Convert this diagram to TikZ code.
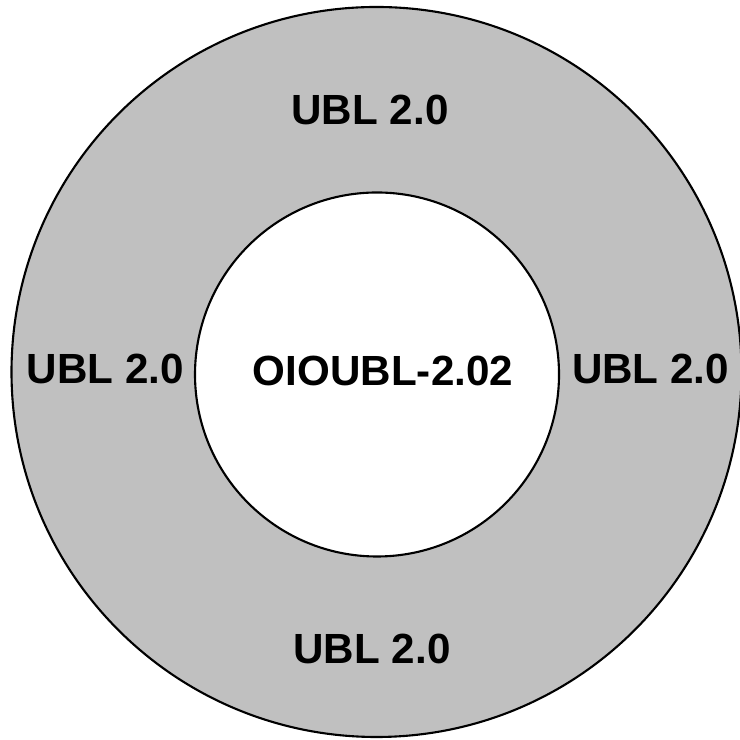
\documentclass[tikz,border=0pt]{standalone}
\usepackage{fontspec}
\setmainfont{Liberation Sans}
\begin{document}
\begin{tikzpicture}
			[every circle node/.style={draw,line width=0.6pt,inner sep=0pt},
			label/.style={font=\bfseries\fontsize{12}{14}\selectfont}]
			\useasboundingbox (0,0) rectangle (7.4,7.4);
			\clip (0,0) rectangle (7.4,7.4);
			\node[circle,fill={rgb,255:red,192;green,192;blue,192},minimum size=7.30cm] (outer) at (3.765,3.68) {};
			\node[circle,fill=white,minimum size=3.64cm] (inner) at (3.77,3.655) {};
			\node[label] (top) at (3.70,6.30) {UBL 2.0};
			\node[label] (bottom) at (3.72,0.915) {UBL 2.0};
			\node[label] (left) at (1.055,3.71) {UBL 2.0};
			\node[label] (right) at (6.505,3.71) {UBL 2.0};
			\node[label] (core) at (3.83,3.695) {OIOUBL-2.02};
		\end{tikzpicture}
\end{document}
